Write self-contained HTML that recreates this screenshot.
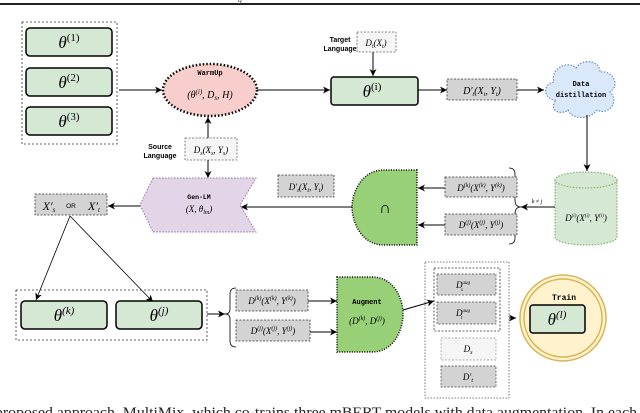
<!DOCTYPE html>
<html><head><meta charset="utf-8"><style>
html,body{margin:0;padding:0;background:#fff;}
svg{display:block;}
.m{font-family:"Liberation Serif",serif;font-style:italic;}
.t{font-family:"Liberation Mono",monospace;font-weight:bold;}
.s{font-family:"Liberation Sans",sans-serif;}
</style></head><body>
<svg width="640" height="413" viewBox="0 0 640 413" xmlns="http://www.w3.org/2000/svg">
<defs>
<marker id="a" markerWidth="8" markerHeight="8" refX="7" refY="4" orient="auto" markerUnits="userSpaceOnUse">
<path d="M0,0.5 L7,4 L0,7.5 L2,4 z" fill="#000"/></marker>
</defs>
<rect x="0" y="3" width="640" height="2" fill="#222"/>
<text x="238" y="2" font-size="8" class="m" fill="#444">g</text>

<rect x="22" y="22" width="95" height="122" fill="none" stroke="#333" stroke-dasharray="2,2" stroke-width="0.8"/>
<g fill="#d5e8d4" stroke="#000" stroke-width="1.5">
<rect x="26" y="28" width="86" height="28" rx="4"/>
<rect x="26" y="68" width="86" height="28" rx="4"/>
<rect x="26" y="107" width="86" height="28" rx="4"/>
</g>
<g font-size="17" class="m" text-anchor="middle">
<text x="69" y="48">θ<tspan font-size="11" dy="-7" font-style="normal">(1)</tspan></text>
<text x="69" y="88">θ<tspan font-size="11" dy="-7" font-style="normal">(2)</tspan></text>
<text x="69" y="127">θ<tspan font-size="11" dy="-7" font-style="normal">(3)</tspan></text>
</g>
<line x1="119" y1="90" x2="162" y2="90" stroke="#000" marker-end="url(#a)"/>

<ellipse cx="210" cy="90" rx="47" ry="26" fill="#f8cecc" stroke="#000" stroke-width="2.5" stroke-dasharray="1.5,2"/>
<text x="210" y="75" font-size="7" class="t" text-anchor="middle">WarmUp</text>
<text x="210" y="98" font-size="10" class="m" text-anchor="middle">(θ<tspan font-size="7" dy="-4">(i)</tspan><tspan dy="4">, D</tspan><tspan font-size="7" dy="2">s</tspan><tspan dy="-2">, H)</tspan></text>
<line x1="257" y1="90" x2="330" y2="90" stroke="#000" marker-end="url(#a)"/>

<text x="340" y="42" font-size="7" class="s" font-weight="bold" text-anchor="middle">Target</text>
<text x="340" y="51" font-size="7" class="s" font-weight="bold" text-anchor="middle">Language</text>
<rect x="357" y="32" width="39" height="20" fill="#f5f5f5" stroke="#666" stroke-dasharray="2,1.5" stroke-width="0.8"/>
<text x="376" y="46" font-size="9" class="m" text-anchor="middle">D<tspan font-size="6" dy="2">t</tspan><tspan dy="-2">(X</tspan><tspan font-size="6" dy="2">t</tspan><tspan dy="-2">)</tspan></text>
<line x1="373" y1="52" x2="373" y2="76" stroke="#000" marker-end="url(#a)"/>
<rect x="331" y="77" width="87" height="28" rx="3" fill="#d5e8d4" stroke="#000" stroke-width="1.5"/>
<text x="372" y="97" font-size="17" class="m" text-anchor="middle">θ<tspan font-size="11" dy="-7" font-style="normal">(i)</tspan></text>
<line x1="418" y1="90" x2="447" y2="90" stroke="#000" marker-end="url(#a)"/>
<rect x="447" y="79" width="70" height="21" fill="#d3d3d3" stroke="#333" stroke-dasharray="2,1.5" stroke-width="0.8"/>
<text x="482" y="94" font-size="10" class="m" text-anchor="middle">D′<tspan font-size="6" dy="2">t</tspan><tspan dy="-2">(X</tspan><tspan font-size="6" dy="2">t</tspan><tspan dy="-2">, Y</tspan><tspan font-size="6" dy="2">t</tspan><tspan dy="-2">)</tspan></text>
<line x1="517" y1="90" x2="544" y2="90" stroke="#000" marker-end="url(#a)"/>

<path d="M556,100 C543,100 542,84 554,82 C550,68 568,60 576,68 C582,58 600,60 600,72 C614,70 620,86 610,92 C620,102 608,116 597,110 C590,120 572,120 568,110 C560,116 548,110 556,100 z" fill="#dae8fc" stroke="#6c8ebf" stroke-width="1.2" stroke-dasharray="1.5,1.5"/>
<text x="581" y="86" font-size="7" class="t" text-anchor="middle">Data</text>
<text x="581" y="97" font-size="7" class="t" text-anchor="middle">distillation</text>
<line x1="587" y1="115" x2="587" y2="171" stroke="#000" marker-end="url(#a)"/>

<path d="M555,180 L555,237 A31,8 0 0 0 617,237 L617,180" fill="#d5e8d4" stroke="#82b366" stroke-width="1.2" stroke-dasharray="1.5,1.5"/>
<ellipse cx="586" cy="180" rx="31" ry="8" fill="#d5e8d4" stroke="#82b366" stroke-width="1.2" stroke-dasharray="1.5,1.5"/>
<text x="586" y="221" font-size="9" class="m" text-anchor="middle">D<tspan font-size="5" dy="-4">(i)</tspan><tspan dy="4">(X</tspan><tspan font-size="5" dy="-4">(i)</tspan><tspan dy="4">, Y</tspan><tspan font-size="5" dy="-4">(i)</tspan><tspan dy="4">)</tspan></text>
<line x1="555" y1="207" x2="521" y2="207" stroke="#000" marker-end="url(#a)"/>
<text x="537" y="203" font-size="6" class="m" text-anchor="middle">k ≠ j</text>
<path d="M509,168 Q515,168 515,174 L515,200 Q515,207 521,207 Q515,207 515,214 L515,238 Q515,244 509,244" fill="none" stroke="#000" stroke-width="0.8"/>

<rect x="445" y="177" width="72" height="20" fill="#d3d3d3" stroke="#333" stroke-dasharray="2,1.5" stroke-width="0.8"/>
<text x="481" y="191" font-size="9" class="m" text-anchor="middle">D<tspan font-size="6" dy="-4">(k)</tspan><tspan dy="4">(X</tspan><tspan font-size="6" dy="-4">(k)</tspan><tspan dy="4">, Y</tspan><tspan font-size="6" dy="-4">(k)</tspan><tspan dy="4">)</tspan></text>
<rect x="445" y="214" width="72" height="21" fill="#d3d3d3" stroke="#333" stroke-dasharray="2,1.5" stroke-width="0.8"/>
<text x="481" y="228" font-size="9" class="m" text-anchor="middle">D<tspan font-size="6" dy="-4">(j)</tspan><tspan dy="4">(X</tspan><tspan font-size="6" dy="-4">(j)</tspan><tspan dy="4">, Y</tspan><tspan font-size="6" dy="-4">(j)</tspan><tspan dy="4">)</tspan></text>
<line x1="445" y1="188" x2="418" y2="188" stroke="#000" marker-end="url(#a)"/>
<line x1="445" y1="225" x2="418" y2="225" stroke="#000" marker-end="url(#a)"/>

<path d="M417,170 L384,170 C360,170 352,195 352,207 C352,220 360,245 384,245 L417,245 z" fill="#97d077" stroke="#000" stroke-width="1.5" stroke-dasharray="1,1.5"/>
<text x="385" y="213" font-size="16" class="s" text-anchor="middle">∩</text>
<line x1="352" y1="207" x2="241" y2="207" stroke="#000" marker-end="url(#a)"/>
<rect x="278" y="175" width="56" height="22" fill="#d3d3d3" stroke="#333" stroke-dasharray="2,1.5" stroke-width="0.8"/>
<text x="306" y="190" font-size="9" class="m" text-anchor="middle">D′<tspan font-size="6" dy="2">t</tspan><tspan dy="-2">(X</tspan><tspan font-size="6" dy="2">t</tspan><tspan dy="-2">, Y</tspan><tspan font-size="6" dy="2">t</tspan><tspan dy="-2">)</tspan></text>

<text x="160" y="149" font-size="7" class="s" font-weight="bold" text-anchor="middle">Source</text>
<text x="160" y="158" font-size="7" class="s" font-weight="bold" text-anchor="middle">Language</text>
<rect x="185" y="138" width="52" height="22" fill="#f5f5f5" stroke="#666" stroke-dasharray="2,1.5" stroke-width="0.8"/>
<text x="211" y="153" font-size="9" class="m" text-anchor="middle">D<tspan font-size="6" dy="2">s</tspan><tspan dy="-2">(X</tspan><tspan font-size="6" dy="2">s</tspan><tspan dy="-2">, Y</tspan><tspan font-size="6" dy="2">s</tspan><tspan dy="-2">)</tspan></text>
<line x1="208" y1="138" x2="208" y2="117" stroke="#000" marker-end="url(#a)"/>
<line x1="208" y1="160" x2="208" y2="178" stroke="#000" marker-end="url(#a)"/>

<path d="M153,178 L256,178 L240,205 L256,232 L153,232 L140,205 z" fill="#e1d5e7" stroke="#9673a6" stroke-width="1" stroke-dasharray="1.5,1.5"/>
<text x="199" y="199" font-size="6.5" class="t" text-anchor="middle">Gen-LM</text>
<text x="199" y="212" font-size="9" class="m" text-anchor="middle">(X, θ<tspan font-size="6" dy="2">lm</tspan><tspan dy="-2">)</tspan></text>
<line x1="140" y1="206" x2="108" y2="206" stroke="#000" marker-end="url(#a)"/>

<rect x="35" y="194" width="72" height="21" fill="#d3d3d3" stroke="#333" stroke-dasharray="2,1.5" stroke-width="0.8"/>
<text x="49" y="210" font-size="12" class="m" text-anchor="middle">X′<tspan font-size="7" dy="2">s</tspan></text>
<text x="71" y="208" font-size="6.5" class="s" text-anchor="middle">OR</text>
<text x="94" y="210" font-size="12" class="m" text-anchor="middle">X′<tspan font-size="7" dy="2">t</tspan></text>
<line x1="70" y1="216" x2="36" y2="300" stroke="#000" stroke-width="0.8" marker-end="url(#a)"/>
<line x1="70" y1="216" x2="153" y2="302" stroke="#000" stroke-width="0.8" marker-end="url(#a)"/>

<rect x="16" y="290" width="191" height="50" fill="none" stroke="#333" stroke-dasharray="2,2" stroke-width="0.8"/>
<rect x="21" y="301" width="86" height="28" rx="4" fill="#d5e8d4" stroke="#000" stroke-width="1.5"/>
<rect x="116" y="301" width="86" height="28" rx="4" fill="#d5e8d4" stroke="#000" stroke-width="1.5"/>
<text x="64" y="321" font-size="17" class="m" text-anchor="middle">θ<tspan font-size="11" dy="-7">(k)</tspan></text>
<text x="159" y="321" font-size="17" class="m" text-anchor="middle">θ<tspan font-size="11" dy="-7">(j)</tspan></text>
<line x1="207" y1="314" x2="225" y2="314" stroke="#000" marker-end="url(#a)"/>
<path d="M236,288 Q230,288 230,294 L230,309 Q230,314 225,314 Q230,314 230,319 L230,341 Q230,347 236,347" fill="none" stroke="#000" stroke-width="0.8"/>

<rect x="236" y="290" width="72" height="21" fill="#d3d3d3" stroke="#333" stroke-dasharray="2,1.5" stroke-width="0.8"/>
<text x="272" y="304" font-size="9" class="m" text-anchor="middle">D<tspan font-size="6" dy="-4">(k)</tspan><tspan dy="4">(X</tspan><tspan font-size="6" dy="-4">(k)</tspan><tspan dy="4">, Y</tspan><tspan font-size="6" dy="-4">(k)</tspan><tspan dy="4">)</tspan></text>
<rect x="236" y="320" width="74" height="21" fill="#d3d3d3" stroke="#333" stroke-dasharray="2,1.5" stroke-width="0.8"/>
<text x="273" y="334" font-size="9" class="m" text-anchor="middle">D<tspan font-size="6" dy="-4">(j)</tspan><tspan dy="4">(X</tspan><tspan font-size="6" dy="-4">(j)</tspan><tspan dy="4">, Y</tspan><tspan font-size="6" dy="-4">(j)</tspan><tspan dy="4">)</tspan></text>
<line x1="308" y1="301" x2="337" y2="301" stroke="#000" marker-end="url(#a)"/>
<line x1="310" y1="332" x2="337" y2="332" stroke="#000" marker-end="url(#a)"/>

<path d="M337,277 L372,277 C395,277 403,300 403,314 C403,328 395,352 372,352 L337,352 z" fill="#97d077" stroke="#000" stroke-width="1.5" stroke-dasharray="1,1.5"/>
<text x="367" y="304" font-size="7" class="t" text-anchor="middle">Augment</text>
<text x="367" y="324" font-size="9" class="m" text-anchor="middle">(D<tspan font-size="6" dy="-4">(k)</tspan><tspan dy="4">, D</tspan><tspan font-size="6" dy="-4">(j)</tspan><tspan dy="4">)</tspan></text>
<line x1="403" y1="310" x2="434" y2="301" stroke="#000" marker-end="url(#a)"/>

<rect x="425" y="262" width="84" height="136" fill="none" stroke="#555" stroke-dasharray="1.5,1.5" stroke-width="0.8"/>
<rect x="434" y="268" width="66" height="63" fill="none" stroke="#333" stroke-dasharray="2,1.5" stroke-width="0.8"/>
<rect x="437" y="274" width="59" height="21" fill="#d3d3d3" stroke="#444" stroke-dasharray="2,1.5" stroke-width="0.7"/>
<text x="463" y="288" font-size="9" class="m" text-anchor="middle">D<tspan font-size="5" dy="-4">aug</tspan><tspan font-size="5" dx="-9" dy="7">s</tspan></text>
<rect x="437" y="302" width="59" height="22" fill="#d3d3d3" stroke="#444" stroke-dasharray="2,1.5" stroke-width="0.7"/>
<text x="463" y="316" font-size="9" class="m" text-anchor="middle">D<tspan font-size="5" dy="-4">aug</tspan><tspan font-size="5" dx="-9" dy="7">t</tspan></text>
<rect x="441" y="338" width="55" height="22" fill="#f5f5f5" stroke="#999" stroke-dasharray="2,1.5" stroke-width="0.7"/>
<text x="468" y="352" font-size="9" class="m" text-anchor="middle">D<tspan font-size="6" dy="2">s</tspan></text>
<rect x="441" y="366" width="55" height="21" fill="#d3d3d3" stroke="#444" stroke-dasharray="2,1.5" stroke-width="0.7"/>
<text x="468" y="380" font-size="9" class="m" text-anchor="middle">D′<tspan font-size="6" dy="2">t</tspan></text>
<line x1="509" y1="318" x2="516" y2="318" stroke="#000" marker-end="url(#a)"/>

<circle cx="563" cy="318" r="43" fill="#fff2cc" stroke="#d6b656" stroke-width="1.5"/>
<circle cx="563" cy="318" r="39" fill="#fff2cc" stroke="#d6b656" stroke-width="1.5"/>
<text x="564" y="300" font-size="8" class="t" text-anchor="middle">Train</text>
<rect x="530" y="305" width="55" height="28" rx="3" fill="#d5e8d4" stroke="#000" stroke-width="1.5"/>
<text x="557" y="325" font-size="17" class="m" text-anchor="middle">θ<tspan font-size="11" dy="-7">(l)</tspan></text>

<text x="-5" y="417" font-size="15" font-family="Liberation Serif,serif" fill="#222" textLength="642" lengthAdjust="spacingAndGlyphs">proposed approach, MultiMix, which co-trains three mBERT models with data augmentation. In each</text>
</svg>
</body></html>
